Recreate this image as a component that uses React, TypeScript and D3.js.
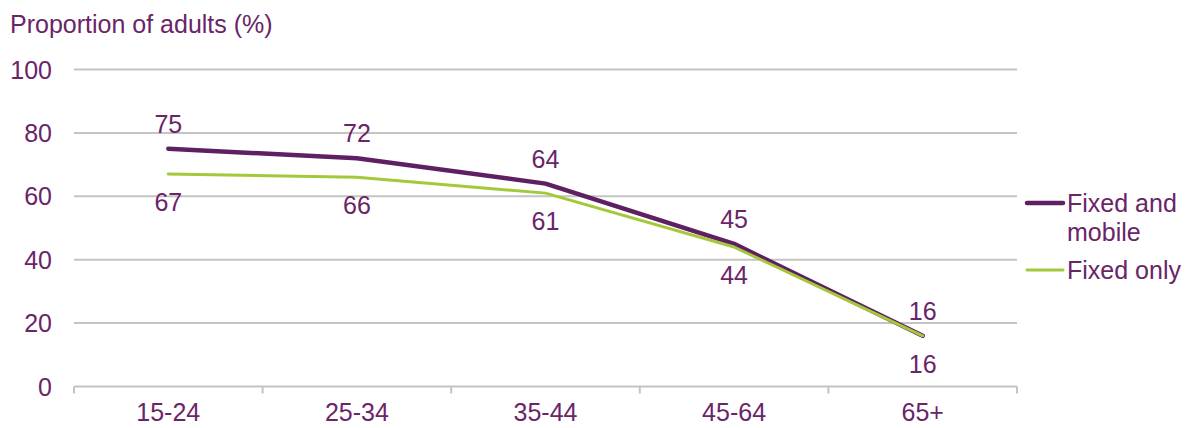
import React from "react";
import * as d3 from "d3";

const categories = ["15-24", "25-34", "35-44", "45-64", "65+"];
const fixedAndMobile = [75, 72, 64, 45, 16];
const fixedOnly = [67, 66, 61, 44, 16];
const yTicks = [0, 20, 40, 60, 80, 100];

const W = 1186;
const H = 428;
const margin = { left: 74, right: 169, top: 69.5, bottom: 41.5 };
const TEXT = "#6a2468";
const PURPLE = "#5f1f63";
const GREEN = "#a3c93a";
const FONT = "'Liberation Sans', Arial, sans-serif";
const FS = 25;

export default function App() {
  const x = d3
    .scaleBand<string>()
    .domain(categories)
    .range([margin.left, W - margin.right])
    .paddingInner(0)
    .paddingOuter(0);
  const y = d3.scaleLinear().domain([0, 100]).range([H - margin.bottom, margin.top]);
  const cx = (c: string) => (x(c) as number) + x.bandwidth() / 2;

  const line = d3
    .line<number>()
    .x((_, i) => cx(categories[i]))
    .y((d) => y(d));

  const boundaries = [...categories.map((c) => x(c) as number), W - margin.right];

  return (
    <svg
      width={W}
      height={H}
      style={{ position: "absolute", left: 0, top: 0, background: "#fff" }}
      fontFamily={FONT}
    >
      <text x={10} y={33} fontSize={FS} fill={TEXT}>
        Proportion of adults (%)
      </text>
      {yTicks.map((t) => (
        <g key={t}>
          <line
            x1={margin.left}
            x2={W - margin.right}
            y1={y(t)}
            y2={y(t)}
            stroke="#c4c4c4"
            strokeWidth={2}
          />
          <text
            x={52}
            y={y(t)}
            dy="0.36em"
            textAnchor="end"
            fontSize={FS}
            fill={TEXT}
          >
            {t}
          </text>
        </g>
      ))}
      {boundaries.map((b, i) => (
        <line
          key={i}
          x1={b}
          x2={b}
          y1={y(0)}
          y2={y(0) + 7}
          stroke="#c4c4c4"
          strokeWidth={2}
        />
      ))}
      {categories.map((c) => (
        <text
          key={c}
          x={cx(c)}
          y={421}
          textAnchor="middle"
          fontSize={FS}
          fill={TEXT}
        >
          {c}
        </text>
      ))}
      <path d={line(fixedAndMobile) || ""} fill="none" stroke={PURPLE} strokeWidth={4.5} strokeLinejoin="round" strokeLinecap="round" />
      <path d={line(fixedOnly) || ""} fill="none" stroke={GREEN} strokeWidth={3} strokeLinejoin="round" strokeLinecap="round" />
      {fixedAndMobile.map((v, i) => (
        <text
          key={"a" + i}
          x={cx(categories[i])}
          y={y(v) - 16}
          textAnchor="middle"
          fontSize={FS}
          fill={TEXT}
        >
          {v}
        </text>
      ))}
      {fixedOnly.map((v, i) => (
        <text
          key={"b" + i}
          x={cx(categories[i])}
          y={y(v) + 37}
          textAnchor="middle"
          fontSize={FS}
          fill={TEXT}
        >
          {v}
        </text>
      ))}
      <g fontSize={FS} fill={TEXT}>
        <line x1={1027} x2={1063} y1={203} y2={203} stroke={PURPLE} strokeWidth={4.5} strokeLinecap="round" />
        <text x={1067} y={212}>Fixed and</text>
        <text x={1067} y={241}>mobile</text>
        <line x1={1027} x2={1063} y1={270} y2={270} stroke={GREEN} strokeWidth={3} strokeLinecap="round" />
        <text x={1067} y={279}>Fixed only</text>
      </g>
    </svg>
  );
}
